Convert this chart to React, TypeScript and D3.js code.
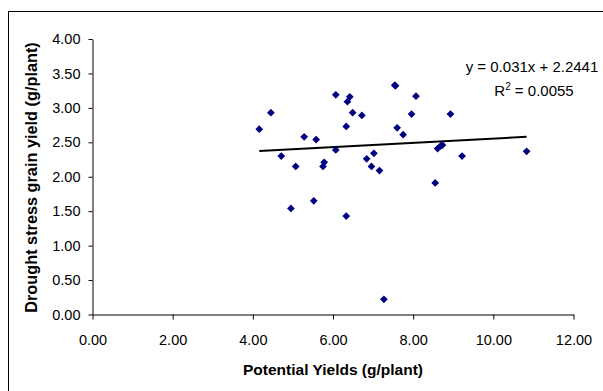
import React, { useEffect, useRef } from 'react';
import * as d3 from 'd3';

// potential yield (x) vs drought stress grain yield (y), g/plant
const potentialYield = [
  4.16, 4.45, 4.71, 4.95, 5.07, 5.28, 5.52, 5.58, 5.75, 5.78,
  6.07, 6.07, 6.33, 6.33, 6.36, 6.42, 6.49, 6.72, 6.84, 6.96,
  7.02, 7.16, 7.27, 7.54, 7.56, 7.60, 7.75, 7.96, 8.07, 8.55,
  8.61, 8.69, 8.73, 8.93, 9.22, 10.83,
];
const droughtYield = [
  2.69, 2.93, 2.30, 1.54, 2.15, 2.58, 1.65, 2.54, 2.15, 2.21,
  3.19, 2.39, 2.73, 1.43, 3.09, 3.16, 2.93, 2.89, 2.26, 2.15,
  2.34, 2.09, 0.22, 3.33, 3.32, 2.71, 2.61, 2.91, 3.17, 1.91,
  2.41, 2.45, 2.46, 2.91, 2.30, 2.37,
];
const trendSlope = 0.031;
const trendIntercept = 2.2441;
const equationText = 'y = 0.031x + 2.2441';
const rSquaredText = '0.0055';
const xTicks = [0, 2, 4, 6, 8, 10, 12];
const yTicks = [0, 0.5, 1, 1.5, 2, 2.5, 3, 3.5, 4];
const xTitle = 'Potential Yields (g/plant)';
const yTitle = 'Drought stress grain yield (g/plant)';

const W = 603;
const H = 391;
const FONT = 'Arial, "Liberation Sans", sans-serif';

const App = () => {
  const ref = useRef<SVGSVGElement>(null);

  useEffect(() => {
    const svg = d3.select(ref.current);
    svg.selectAll('*').remove();

    // outer frame, runs past the right and bottom edges
    svg.append('rect')
      .attr('x', 8.5).attr('y', 11.5)
      .attr('width', 620).attr('height', 420)
      .attr('fill', '#fff').attr('stroke', '#000');

    const x = d3.scaleLinear().domain([0, 12]).range([92.5, 573.5]);
    const y = d3.scaleLinear().domain([0, 4]).range([314.5, 39]);

    const xAxis = svg.append('g')
      .attr('transform', `translate(0,${y(0)})`)
      .call(d3.axisBottom(x).tickValues(xTicks).tickFormat(d3.format('.2f'))
        .tickSize(5).tickPadding(15).tickSizeOuter(0));
    const yAxis = svg.append('g')
      .attr('transform', `translate(${x(0)},0)`)
      .call(d3.axisLeft(y).tickValues(yTicks).tickFormat(d3.format('.2f'))
        .tickSize(4).tickPadding(8).tickSizeOuter(0));

    [xAxis, yAxis].forEach(g => {
      g.select('.domain').attr('stroke', '#000');
      g.selectAll('.tick line').attr('stroke', '#000');
      g.selectAll('.tick text')
        .attr('fill', '#000')
        .style('font-family', FONT)
        .style('font-size', '14.5px');
    });

    // trendline over the data range
    const [xMin, xMax] = d3.extent(potentialYield) as [number, number];
    const line = d3.line<number>()
      .x(d => x(d))
      .y(d => y(trendSlope * d + trendIntercept));
    svg.append('path')
      .datum([xMin, xMax])
      .attr('d', line)
      .attr('fill', 'none')
      .attr('stroke', '#000')
      .attr('stroke-width', 2);

    // diamond markers
    const diamond = d3.symbol().type(d3.symbolSquare).size(30);
    svg.append('g')
      .selectAll('path')
      .data(potentialYield.map((v, i) => [v, droughtYield[i]]))
      .join('path')
      .attr('d', diamond)
      .attr('transform', d => `translate(${x(d[0])},${y(d[1])}) rotate(45)`)
      .attr('fill', '#000080');

    // trendline label
    const eq = svg.append('g')
      .style('font-family', FONT)
      .style('font-size', '15px')
      .attr('fill', '#000');
    eq.append('text')
      .attr('x', 532).attr('y', 72)
      .attr('text-anchor', 'middle')
      .text(equationText);
    const r2 = eq.append('text')
      .attr('x', 534).attr('y', 96)
      .attr('text-anchor', 'middle');
    r2.append('tspan').text('R');
    r2.append('tspan').attr('dy', -6).style('font-size', '10px').text('2');
    r2.append('tspan').attr('dy', 6).text(` = ${rSquaredText}`);

    // axis titles
    svg.append('text')
      .attr('x', 333).attr('y', 375)
      .attr('text-anchor', 'middle')
      .style('font-family', FONT)
      .style('font-size', '15.5px')
      .style('font-weight', 'bold')
      .text(xTitle);
    svg.append('text')
      .attr('transform', 'translate(37,177.5) rotate(-90)')
      .attr('text-anchor', 'middle')
      .style('font-family', FONT)
      .style('font-size', '16.3px')
      .style('font-weight', 'bold')
      .text(yTitle);
  }, []);

  return (
    <div style={{ position: 'absolute', left: 0, top: 0 }}>
      <svg ref={ref} width={W} height={H} style={{ display: 'block', background: '#fff' }} />
    </div>
  );
};

export default App;
